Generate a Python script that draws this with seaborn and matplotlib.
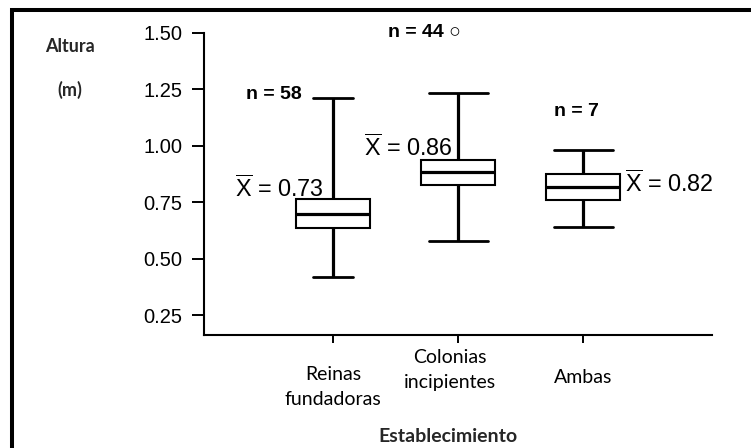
import numpy as np
import pandas as pd
import matplotlib
matplotlib.use("Agg")
import matplotlib.pyplot as plt
from matplotlib.patches import Rectangle
from matplotlib.transforms import ScaledTranslation
import seaborn as sns

# ---------------- data ----------------
categories = ["Reinas\nfundadoras", "Colonias\nincipientes", "Ambas"]
# five-number summaries: min, Q1, median, Q3, max
reinas = [0.422, 0.636, 0.698, 0.766, 1.210]
colonias = [0.577, 0.827, 0.883, 0.936, 1.232]
ambas = [0.642, 0.762, 0.816, 0.873, 0.983]
means = [0.73, 0.86, 0.82]
n_values = [58, 44, 7]
yticks = [0.25, 0.50, 0.75, 1.00, 1.25, 1.50]
ytick_labels = ["0.25", "0.50", "0.75", "1.00", "1.25", "1.50"]

df = pd.DataFrame({
    "Establecimiento": np.repeat(categories, 5),
    "Altura": reinas + colonias + ambas,
})

# ---------------- style ----------------
sns.set_theme(style="white")
plt.rcParams["font.family"] = ["Liberation Sans", "DejaVu Sans"]
plt.rcParams["mathtext.fontset"] = "custom"
plt.rcParams["mathtext.rm"] = "Liberation Sans"
plt.rcParams["mathtext.it"] = "Liberation Sans:italic"
plt.rcParams["mathtext.bf"] = "Liberation Sans:bold"

W, H = 751, 448
fig = plt.figure(figsize=(W / 100, H / 100), dpi=100)
fig.patch.set_facecolor("white")
ax = fig.add_axes([204 / W, 1 - 334.5 / H, (711.7 - 204) / W, (334.5 - 32.5) / H])

sns.boxplot(
    data=df, x="Establecimiento", y="Altura", order=categories,
    whis=(0, 100), width=0.59, color="white", linecolor="black",
    linewidth=1.5, showfliers=False, ax=ax,
    medianprops=dict(linewidth=2.3, color="black"),
    whiskerprops=dict(linewidth=2.3, color="black"),
    capprops=dict(linewidth=2.0, color="black"),
    boxprops=dict(linewidth=1.5, edgecolor="black"),
)

# cap widths: narrower for the first group, as in the reference
cap_widths = [0.32, 0.47, 0.47]
for ln in ax.lines:
    xd = np.asarray(ln.get_xdata(), dtype=float)
    yd = np.asarray(ln.get_ydata(), dtype=float)
    if len(xd) == 2 and np.isclose(yd[0], yd[1]) and (xd[1] - xd[0]) < 0.4:
        c = xd.mean()
        w = cap_widths[int(round(c))]
        ln.set_xdata([c - w / 2, c + w / 2])

ax.set_xlim(-1.034, 3.028)
ax.set_ylim(0.166, 1.5)
ax.set_yticks(yticks)
ax.set_yticklabels(ytick_labels)

for s in ["top", "right"]:
    ax.spines[s].set_visible(False)
for s in ["left", "bottom"]:
    ax.spines[s].set_linewidth(1.5)
    ax.spines[s].set_color("black")

ax.tick_params(axis="y", direction="out", length=8.6, width=1.4, pad=7,
               labelsize=14.5, colors="black", left=True)
ax.tick_params(axis="x", direction="out", width=1.4, bottom=True,
               labelsize=14, colors="black")
for lab in ax.get_xticklabels():
    lab.set_fontfamily(["Lato", "DejaVu Sans"])
    lab.set_linespacing(1.57)

ticks = ax.xaxis.get_major_ticks()
tick_lengths = [20.0, 7.7, 20.2]
tick_pads = [-3.3, -3.2, -1.5]
for t, L, p in zip(ticks, tick_lengths, tick_pads):
    t.tick1line.set_markersize(L)
    t.set_pad(L + p)
lab1 = ticks[1].label1
lab1.set_transform(lab1.get_transform() +
                   ScaledTranslation(-8 / 100, 0, fig.dpi_scale_trans))

# axis labels
ax.set_xlabel("Establecimiento", fontsize=14, fontweight="bold",
              family=["Lato", "DejaVu Sans"])
ax.xaxis.set_label_coords((448.3 - 204) / (711.7 - 204), (334.5 - 436.5) / 302)
ax.xaxis.label.set_va("center")

ax.set_ylabel("Altura\n\n(m)", fontsize=13, fontweight="bold", rotation=0,
              family=["Lato", "DejaVu Sans"], linespacing=1.32)
ax.yaxis.set_label_coords((69.5 - 204) / (711.7 - 204), (334.5 - 68.7) / 302)
ax.yaxis.label.set_va("center")
ax.yaxis.label.set_ha("center")

# annotations
n_kw = dict(fontsize=14, color="black", fontweight="bold")
m_kw = dict(fontsize=16.8, color="black")
ax.text(-0.25, 1.228, f"n = {n_values[0]}", ha="right", va="center", **n_kw)
ax.text(0.436, 1.498, f"n = {n_values[1]} \u25CB", ha="left", va="center", **n_kw)
ax.text(1.946, 1.153, f"n = {n_values[2]}", ha="center", va="center", **n_kw)

ax.text(-0.08, 0.809, r"$\overline{\mathrm{X}}$ = " + f"{means[0]:.2f}",
        ha="right", va="center", **m_kw)
ax.text(0.958, 0.992, r"$\overline{\mathrm{X}}$ = " + f"{means[1]:.2f}",
        ha="right", va="center", **m_kw)
ax.text(2.334, 0.831, r"$\overline{\mathrm{X}}$ = " + f"{means[2]:.2f}",
        ha="left", va="center", **m_kw)

# figure frame
fig.add_artist(Rectangle((12 / W, -0.5), 2.0, 0.5 + 1 - 9.5 / H,
                         transform=fig.transFigure, fill=False,
                         edgecolor="black", linewidth=2.9, clip_on=False))

fig.savefig("out.png", dpi=100)
